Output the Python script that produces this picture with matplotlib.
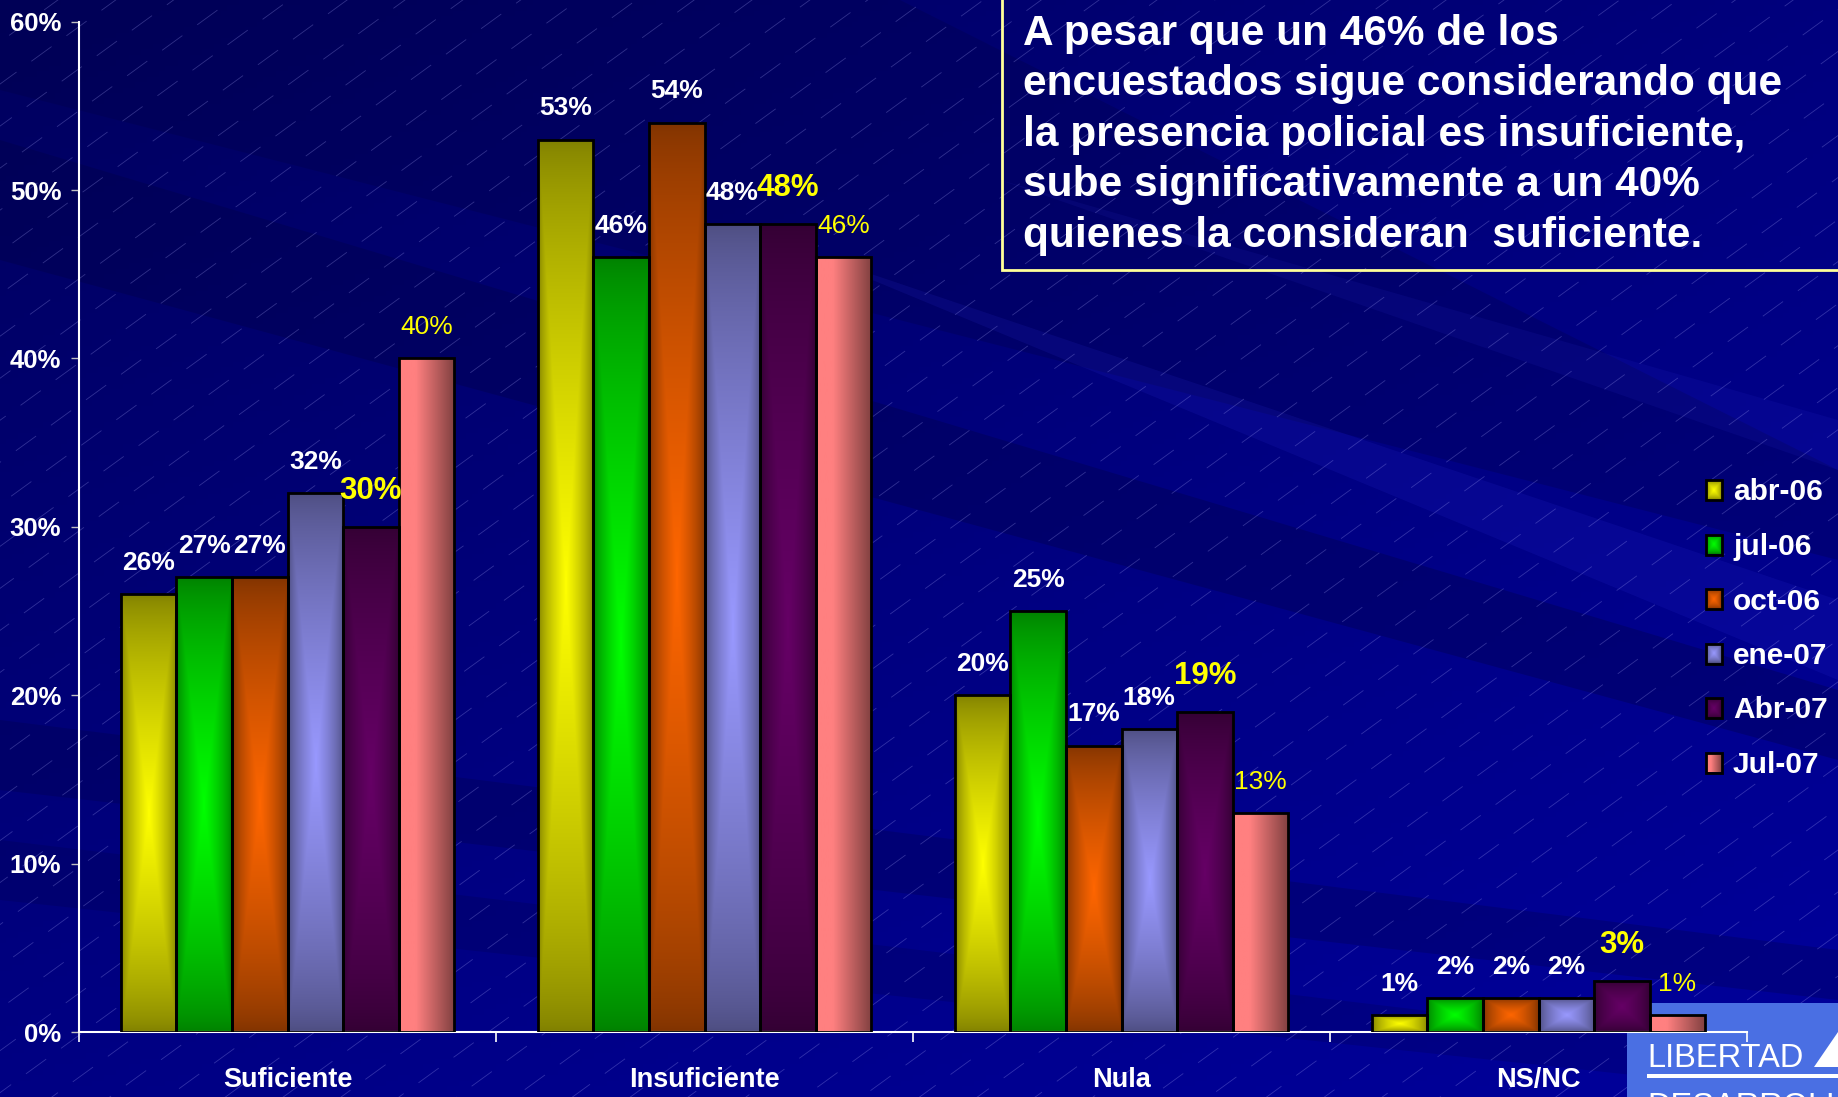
import numpy as np
import matplotlib.pyplot as plt
from matplotlib.patches import Rectangle, Polygon
from matplotlib.collections import LineCollection
from matplotlib.colors import to_rgb

W, H = 1838, 1097

# datos
categories = ['Suficiente', 'Insuficiente', 'Nula', 'NS/NC']
periods = ['abr-06', 'jul-06', 'oct-06', 'ene-07', 'Abr-07', 'Jul-07']
abr_06 = [26, 53, 20, 1]
jul_06 = [27, 46, 25, 2]
oct_06 = [27, 54, 17, 2]
ene_07 = [32, 48, 18, 2]
abr_07 = [30, 48, 19, 3]
jul_07 = [40, 46, 13, 1]
series = [abr_06, jul_06, oct_06, ene_07, abr_07, jul_07]
y_ticks = [0, 10, 20, 30, 40, 50, 60]

note_lines = ['A pesar que un 46% de los',
              'encuestados sigue considerando que',
              'la presencia policial es insuficiente,',
              'sube significativamente a un 40%',
              'quienes la consideran  suficiente.']

# colores (claro, oscuro) de cada serie
bright = ['#FFFF00', '#00FF00', '#FF6600', '#9999FF', '#660066', '#FF8080']
dark = ['#808000', '#008000', '#803300', '#4D4D80', '#330033', '#804040']

FONT = ['Liberation Sans', 'DejaVu Sans']


def center_grad(c1, c2, nx=60, ny=300):
    # degradado rectangular desde el centro
    u = np.abs(np.linspace(-1, 1, nx))
    v = np.abs(np.linspace(-1, 1, ny))
    t = np.maximum(u[None, :], v[:, None])
    s = (1 - t) ** 0.7
    a, b = np.array(to_rgb(c1)), np.array(to_rgb(c2))
    return b + (a - b) * s[..., None]


def horiz_grad(c1, c2, nx=80):
    u = np.linspace(0, 1, nx)
    t = np.clip((u - 0.3) / 0.7, 0, 1)
    a, b = np.array(to_rgb(c1)), np.array(to_rgb(c2))
    return (a + (b - a) * t[:, None])[None, :, :]


def grad_for(i, ny=300):
    if i == 5:
        return horiz_grad(bright[i], dark[i])
    return center_grad(bright[i], dark[i], ny=ny)


fig = plt.figure(figsize=(W / 100, H / 100), dpi=100)

# ---- fondo ----
bg = fig.add_axes([0, 0, 1, 1])
bg.set_xlim(0, W)
bg.set_ylim(H, 0)
bg.axis('off')

yy, xx = np.mgrid[0:1:200j, 0:1:300j]
t = np.clip(0.6 * yy + 0.5 * xx - 0.1 * xx * yy, 0, 1)
c_top, c_bot = np.array(to_rgb('#00005E')), np.array(to_rgb('#00009C'))
bg.imshow(c_top + (c_bot - c_top) * t[..., None], extent=(0, W, H, 0), aspect='auto', zorder=0)

bands = [
    ([(0, 140), (0, 260), (1838, 760), (1838, 690)], '#000040', 0.30),
    ([(0, 0), (0, 90), (1838, 560), (1838, 470), (900, 0)], '#000040', 0.25),
    ([(0, 720), (0, 790), (1838, 1000), (1838, 950)], '#000040', 0.25),
    ([(0, 840), (0, 900), (1838, 1097), (1838, 1060)], '#000040', 0.20),
    ([(800, 250), (1838, 600), (1838, 680)], '#4040FF', 0.10),
    ([(1000, 180), (1838, 420), (1838, 470)], '#4040FF', 0.08),
]
for pts, col, al in bands:
    bg.add_patch(Polygon(pts, closed=True, facecolor=col, alpha=al, edgecolor='none', zorder=1))

# rayado diagonal
ang = np.deg2rad(36)
d = np.array([np.cos(ang), -np.sin(ang)])
n = np.array([np.sin(ang), np.cos(ang)])
segs = []
for k in np.arange(-10, 70):
    p0 = n * k * 34.0
    segs.append([p0 - d * 3000, p0 + d * 3000])
styles = [(k * 7 % 40, (30, 22)) for k in range(len(segs))]
bg.add_collection(LineCollection(segs, colors='#B0B0FF', linewidths=0.6, alpha=0.28,
                                 linestyles=styles, zorder=1))

# logo
bg.add_patch(Rectangle((1627, 1003), 240, 120, facecolor='#4A6FE3', edgecolor='none', zorder=2))
bg.text(1647, 1067, 'LIBERTAD', color='white', fontsize=23.5, family=FONT, va='baseline', zorder=3)
bg.add_patch(Polygon([(1814, 1067), (1838, 1067), (1838, 1032)], closed=True,
                     facecolor='white', edgecolor='none', zorder=3))
bg.add_patch(Rectangle((1647, 1074), 240, 4, facecolor='white', edgecolor='none', zorder=3))
bg.text(1647, 1116, 'DESARROLLO', color='white', fontsize=23.5, family=FONT, va='baseline', zorder=3)

# recuadro de texto
bg.add_patch(Rectangle((1002, -20), 900, 290, facecolor='none', edgecolor='#FFFF99', lw=2, zorder=3))
for j, line in enumerate(note_lines):
    bg.text(1023, 44.5 + j * 50.6, line, color='white', fontsize=30.5, fontweight='bold',
            family=FONT, va='baseline', ha='left', zorder=4)

# leyenda
for i, name in enumerate(periods):
    yc = 490 + i * 54.5
    r = Rectangle((1706, yc - 10), 16, 20, facecolor='none', edgecolor='black', lw=2, zorder=4)
    bg.add_patch(r)
    im = bg.imshow(grad_for(i, ny=40), extent=(1706, 1722, yc + 10, yc - 10), aspect='auto', zorder=3)
    im.set_clip_path(r)
    bg.text(1733, yc + 10.5, name, color='white', fontsize=21.5, fontweight='bold',
            family=FONT, va='baseline', ha='left', zorder=4)
bg.set_xlim(0, W)
bg.set_ylim(H, 0)

# ---- grafico de barras ----
ax = fig.add_axes([79 / W, 1 - 1032 / H, (1747 - 79) / W, (1032 - 21.7) / H])
ax.patch.set_alpha(0)
x = np.arange(len(categories))
bw = 0.8 / len(periods)

for i, vals in enumerate(series):
    bars = ax.bar(x + 0.1 + i * bw, vals, bw, align='edge', facecolor='none',
                  edgecolor='black', linewidth=2, zorder=3)
    img = grad_for(i)
    for b in bars:
        im = ax.imshow(img, extent=(b.get_x(), b.get_x() + b.get_width(), 0, b.get_height()),
                       aspect='auto', zorder=2, interpolation='bilinear')
        im.set_clip_path(b)

    if i < 4:
        style = dict(color='white', fontweight='bold', fontsize=19)
        off = 22.5
    elif i == 4:
        style = dict(color='#FFFF00', fontweight='bold', fontsize=22.5)
        off = 26
    else:
        style = dict(color='#FFFF00', fontweight='normal', fontsize=19)
        off = 22.5
    for xi, v in zip(x, vals):
        ax.annotate(f'{v}%', (xi + 0.1 + (i + 0.5) * bw, v), xytext=(0, off),
                    textcoords='offset points', ha='center', va='center',
                    family=FONT, zorder=5, **style)

ax.set_xlim(0, len(categories))
ax.set_ylim(0, 60)
ax.set_yticks(y_ticks)
ax.set_yticklabels([f'{v}%' for v in y_ticks], family=FONT, fontweight='bold', fontsize=18.5)
ax.set_xticks(np.arange(len(categories) + 1))
ax.set_xticklabels([])
ax.set_xticks(x + 0.5, minor=True)
ax.set_xticklabels(categories, minor=True, family=FONT, fontweight='bold', fontsize=19.5)
ax.tick_params(axis='x', which='minor', length=0, pad=25, labelcolor='white')
ax.tick_params(axis='x', which='major', length=7.2, width=1.2, color='white', direction='out')
ax.tick_params(axis='y', length=5.8, width=1, color='#C0C0C0', pad=7, labelcolor='white')
for s in ['top', 'right']:
    ax.spines[s].set_visible(False)
for s in ['left', 'bottom']:
    ax.spines[s].set_color('white')
    ax.spines[s].set_linewidth(1.5)

fig.savefig('out.png', dpi=100)
